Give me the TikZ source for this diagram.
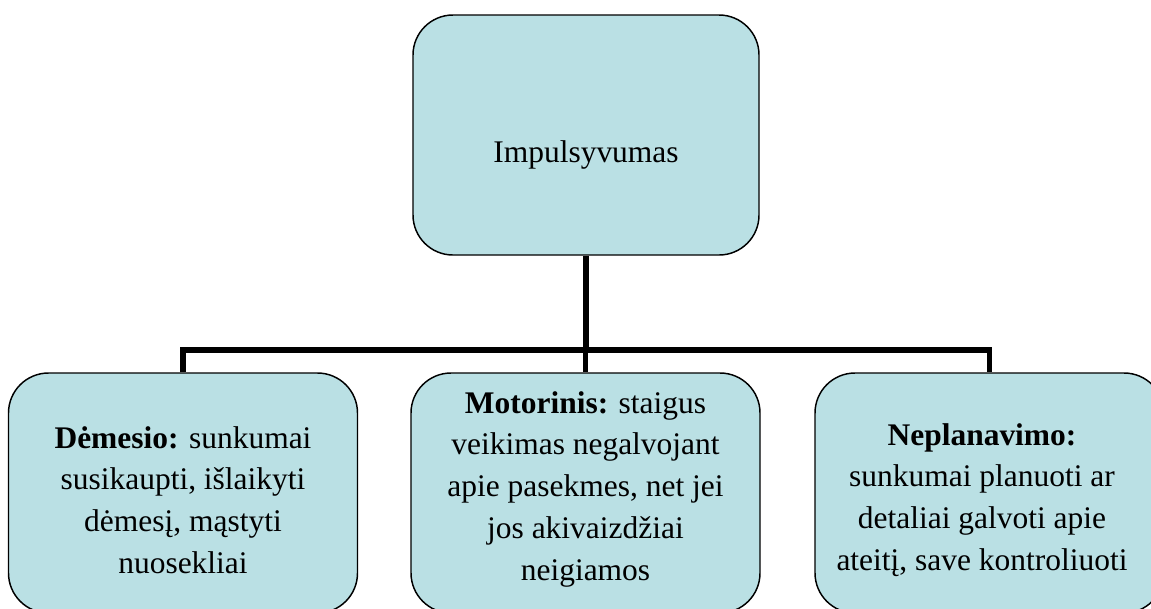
\documentclass[tikz,border=0pt]{standalone}
\usepackage{fontspec}
\setmainfont{Liberation Serif}
\usepackage{tikz}
\definecolor{boxblue}{RGB}{186,224,228}

\begin{document}
\begin{tikzpicture}
  [x=0.75pt,y=-0.75pt,
   box/.style={rectangle,rounded corners=30pt,draw=black,line width=1.1pt,fill=boxblue,inner sep=0pt},
   txt/.style={align=center,inner sep=0pt,font=\fontsize{23.6}{31.3}\selectfont},
   link/.style={draw=black,line width=3.8pt}]

  \path[use as bounding box,clip] (0,0) rectangle (1151,608);

  % boxes
  \node[box,minimum width=259.5pt,minimum height=180pt] (imp) at (586,135) {};
  \node[box,minimum width=261.75pt,minimum height=180pt] (dem) at (183,493) {};
  \node[box,minimum width=261.75pt,minimum height=180pt] (mot) at (585.5,493) {};
  \node[box,minimum width=261.75pt,minimum height=180pt] (nep) at (989.5,493) {};

  % texts
  \node[txt] (timp) at (586,155) {Impulsyvumas};
  \node[txt] (tdem) at (183,500) {\textbf{Dėmesio:} sunkumai\\susikaupti, išlaikyti\\dėmesį, mąstyti\\nuosekliai};
  \node[txt] (tmot) at (585.5,489) {\textbf{Motorinis:} staigus\\veikimas negalvojant\\apie pasekmes, net jei\\jos akivaizdžiai\\neigiamos};
  \node[txt] (tnep) at (982,500) {\textbf{Neplanavimo:}\\sunkumai planuoti ar\\detaliai galvoti apie\\ateitį, save kontroliuoti};

  % connectors
  \coordinate (hub) at (586,350);
  \draw[link] (imp.south) -- (hub);
  \draw[link] (dem.north) -- (dem.north |- hub) -- (nep.north |- hub) -- (nep.north);
  \draw[link] (mot.north |- hub) -- (mot.north);
\end{tikzpicture}
\end{document}
